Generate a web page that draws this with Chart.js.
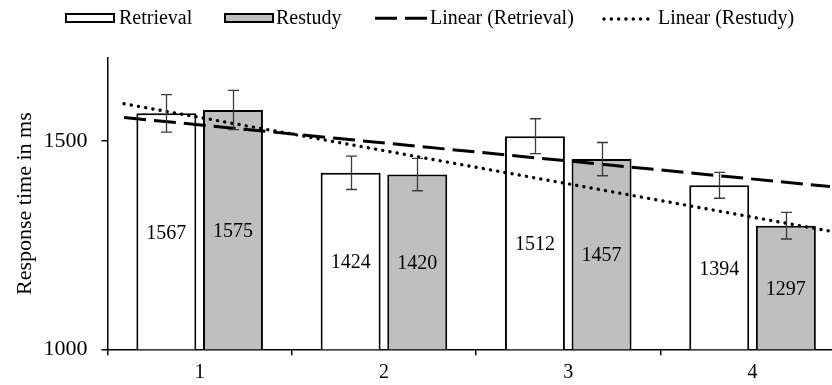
<!DOCTYPE html>
<html>
<head>
<meta charset="utf-8">
<script src="https://cdn.jsdelivr.net/npm/chart.js@4"></script>
<style>
html,body{margin:0;padding:0;background:#fff;overflow:hidden;}
#wrap{width:860px;height:385px;}
</style>
</head>
<body>
<div id="wrap"><canvas id="c" width="860" height="385"></canvas></div>
<script>
const categories = ['1', '2', '3', '4'];
const categoryX = [1, 2, 3, 4];
const retrieval = [1567, 1424, 1512, 1394];
const restudy = [1575, 1420, 1457, 1297];
const retrievalErr = [45, 40, 42, 31];
const restudyErr = [47, 39, 40, 32];
const trendX = [0.59, 4.42];
const retrievalTrend = [1557, 1391];
const restudyTrend = [1590, 1284];
const yTicks = [1000, 1500];
const seriesNames = ['Retrieval', 'Restudy', 'Linear (Retrieval)', 'Linear (Restudy)'];

const FONT = "'Liberation Serif', 'Times New Roman', serif";
const GRAY = '#bfbfbf';

const errPlugin = {
  id: 'errbars',
  afterDatasetsDraw(chart) {
    const ctx = chart.ctx;
    const y = chart.scales.y;
    const errs = [retrievalErr, restudyErr];
    const vals = [retrieval, restudy];
    ctx.save();
    ctx.fillStyle = '#000';
    ctx.font = '20px ' + FONT;
    ctx.textAlign = 'center';
    ctx.textBaseline = 'middle';
    [0, 1].forEach(di => {
      const meta = chart.getDatasetMeta(di);
      meta.data.forEach((bar, i) => {
        const mid = (y.getPixelForValue(vals[di][i]) + y.getPixelForValue(1000)) / 2;
        ctx.fillText(String(vals[di][i]), bar.x, mid + 2);
      });
    });
    ctx.strokeStyle = '#3a3a3a';
    ctx.lineWidth = 1.3;
    [0, 1].forEach(di => {
      const meta = chart.getDatasetMeta(di);
      meta.data.forEach((bar, i) => {
        const v = vals[di][i], e = errs[di][i];
        const yt = y.getPixelForValue(v + e), yb = y.getPixelForValue(v - e);
        const x = Math.round(bar.x) + 0.5;
        ctx.beginPath();
        ctx.moveTo(x, yt); ctx.lineTo(x, yb);
        ctx.moveTo(x - 5.5, yt); ctx.lineTo(x + 5.5, yt);
        ctx.moveTo(x - 5.5, yb); ctx.lineTo(x + 5.5, yb);
        ctx.stroke();
      });
    });
    ctx.restore();
  }
};

const legendPlugin = {
  id: 'customLegend',
  afterDraw(chart) {
    const ctx = chart.ctx;
    ctx.save();
    ctx.font = '20px ' + FONT;
    ctx.textBaseline = 'alphabetic';
    ctx.textAlign = 'left';
    const by = 24.3;
    ctx.lineWidth = 2;
    ctx.strokeStyle = '#000';
    ctx.fillStyle = '#fff';
    ctx.fillRect(66, 14, 48, 8); ctx.strokeRect(66, 14, 48, 8);
    ctx.fillStyle = '#000';
    ctx.fillText(seriesNames[0], 119, by);
    ctx.fillStyle = GRAY;
    ctx.fillRect(225, 14, 48, 8); ctx.strokeRect(225, 14, 48, 8);
    ctx.fillStyle = '#000';
    ctx.fillText(seriesNames[1], 276, by);
    ctx.lineWidth = 3;
    ctx.setLineDash([22, 8]);
    ctx.beginPath(); ctx.moveTo(375, 18.3); ctx.lineTo(427, 18.3); ctx.stroke();
    ctx.fillText(seriesNames[2], 430, by);
    ctx.lineCap = 'round';
    ctx.lineWidth = 3.4;
    ctx.setLineDash([0.1, 7.2]);
    ctx.beginPath(); ctx.moveTo(604, 19); ctx.lineTo(652, 19); ctx.stroke();
    ctx.setLineDash([]);
    ctx.fillText(seriesNames[3], 658, by);
    ctx.restore();
  }
};

new Chart(document.getElementById('c'), {
  type: 'bar',
  data: {
    datasets: [
      { label: seriesNames[0], data: categoryX.map((x, i) => ({ x: x, y: retrieval[i] })),
        backgroundColor: '#fff', borderColor: '#000', borderWidth: 2, order: 3,
        categoryPercentage: 0.723, barPercentage: 0.9 },
      { label: seriesNames[1], data: categoryX.map((x, i) => ({ x: x, y: restudy[i] })),
        backgroundColor: GRAY, borderColor: '#000', borderWidth: 2, order: 3,
        categoryPercentage: 0.723, barPercentage: 0.9 },
      { type: 'line', label: seriesNames[2], grouped: false,
        data: trendX.map((x, i) => ({ x: x, y: retrievalTrend[i] })),
        borderColor: '#000', borderWidth: 3, borderDash: [22, 8], pointRadius: 0, fill: false, order: 1 },
      { type: 'line', label: seriesNames[3], grouped: false,
        data: trendX.map((x, i) => ({ x: x, y: restudyTrend[i] })),
        borderColor: '#000', borderWidth: 3.4, borderDash: [0.1, 7.2], borderCapStyle: 'round', pointRadius: 0, fill: false, order: 2 }
    ]
  },
  options: {
    responsive: false,
    animation: false,
    layout: { padding: { left: 0, right: 15.3, top: 58, bottom: 0 } },
    plugins: { legend: { display: false }, tooltip: { enabled: false } },
    scales: {
      x: {
        type: 'linear', min: 0.5, max: 4.5, offset: false,
        afterBuildTicks: s => { s.ticks = categoryX.map(v => ({ value: v })); },
        grid: { display: true, drawOnChartArea: false, drawTicks: true, tickLength: 6, color: '#000', lineWidth: 1.5, offset: true },
        border: { display: true, color: '#000', width: 1.5 },
        ticks: { color: '#000', font: { family: FONT, size: 20 }, padding: 5, maxRotation: 0,
          callback: (v, i) => categories[i] },
        afterFit: s => { s.height = 35.7; }
      },
      y: {
        min: 1000, max: 1700,
        afterBuildTicks: s => { s.ticks = yTicks.map(v => ({ value: v })); },
        grid: { display: true, drawOnChartArea: false, drawTicks: true, tickLength: 6, color: '#000', lineWidth: 1.5 },
        border: { display: true, color: '#000', width: 1.5 },
        ticks: { color: '#000', font: { family: FONT, size: 22 }, padding: 14, callback: v => String(v) },
        title: { display: true, text: 'Response time in ms', color: '#000', font: { family: FONT, size: 22 }, padding: { top: 12, bottom: 0 } },
        afterFit: s => { s.width = 107.5; }
      }
    }
  },
  plugins: [errPlugin, legendPlugin]
});
</script>
</body>
</html>
